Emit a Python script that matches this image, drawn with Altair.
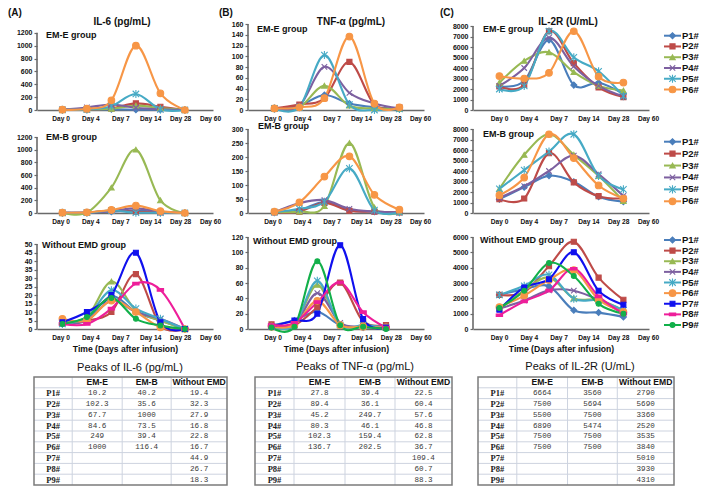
import altair as alt
import pandas as pd

# ---------------- data ----------------
SERIES = ["P1#", "P2#", "P3#", "P4#", "P5#", "P6#", "P7#", "P8#", "P9#"]
DAY_LABELS = ["Day 0", "Day 4", "Day 7", "Day 14", "Day 28", "Day 60"]
POINT_INDEX = [0, 1, 2, 3, 4, 5]

IL6_EME = {
    "P1#": [2, 5, 10.2, 5, 3, 0],
    "P2#": [3, 10, 25, 102.3, 50, 0],
    "P3#": [5, 10, 20, 67.7, 30, 0],
    "P4#": [10, 40, 84.6, 35, 10, 0],
    "P5#": [2, 10, 60, 249, 10, 0],
    "P6#": [5, 20, 150, 1000, 260, 0],
}
IL6_EMB = {
    "P1#": [2, 5, 20, 40.2, 10, 0],
    "P2#": [2, 5, 35.6, 20, 10, 0],
    "P3#": [0, 5, 400, 1000, 200, 0],
    "P4#": [3, 10, 30, 73.5, 20, 0],
    "P5#": [2, 5, 39.4, 5, 5, 0],
    "P6#": [5, 10, 50, 116.4, 30, 0],
}
IL6_WO = {
    "P1#": [3, 6, 19.4, 10, 5, 0],
    "P2#": [3.5, 5, 10, 32.3, 2, 0],
    "P3#": [4, 7, 27.9, 11, 5, 0],
    "P4#": [3, 5, 16.8, 10, 6, 0],
    "P5#": [3, 7, 22.8, 12, 6, 0],
    "P6#": [6, 5, 16.7, 10, 1, 0],
    "P7#": [4, 10, 20, 44.9, 4, 0],
    "P8#": [3, 3, 12, 26.7, 23, 0],
    "P9#": [3, 7, 18.3, 6, 2, 0],
}
TNF_EME = {
    "P1#": [2, 8, 27.8, 12, 5, 2],
    "P2#": [3, 10, 22, 89.4, 10, 5],
    "P3#": [2, 5, 45.2, 8, 3, 2],
    "P4#": [3, 8, 80.3, 32, 12, 3],
    "P5#": [3, 5, 102.3, 10, 0, 2],
    "P6#": [3, 5, 22, 136.7, 12, 5],
}
TNF_EMB = {
    "P1#": [2, 10, 39.4, 10, 5, 2],
    "P2#": [2, 5, 36.1, 8, 5, 2],
    "P3#": [3, 5, 25, 249.7, 20, 3],
    "P4#": [3, 35, 46.1, 15, 5, 2],
    "P5#": [3, 15, 40, 159.4, 10, 3],
    "P6#": [5, 38, 130, 202.5, 65, 12],
}
TNF_WO = {
    "P1#": [5, 11, 22.5, 5, 2, 1],
    "P2#": [6, 5, 28.5, 60.4, 10, 5],
    "P3#": [3, 5, 57.6, 5, 3, 2],
    "P4#": [3, 5, 46.8, 8, 3, 2],
    "P5#": [3, 5, 62.8, 5, 5, 2],
    "P6#": [3, 5, 36.7, 5, 3, 2],
    "P7#": [3, 11, 20, 109.4, 13, 2],
    "P8#": [5, 8, 35, 60.7, 22, 2],
    "P9#": [2, 3, 88.3, 5, 3, 0],
}
IL2R_EME = {
    "P1#": [2250, 2770, 6664, 2370, 2600, 1540],
    "P2#": [2250, 2400, 7500, 4460, 2150, 1230],
    "P3#": [2600, 4680, 5500, 3600, 2300, 1850],
    "P4#": [2300, 4000, 6890, 4150, 2300, 1300],
    "P5#": [2000, 2300, 7500, 5015, 3690, 1320],
    "P6#": [3230, 3000, 3540, 7500, 3170, 2615],
}
IL2R_EMB = {
    "P1#": [1320, 2460, 3560, 2980, 1540, 1080],
    "P2#": [1320, 1380, 5694, 2920, 1600, 1380],
    "P3#": [2300, 5540, 7500, 5540, 3540, 1140],
    "P4#": [1450, 2550, 4000, 5474, 3700, 1630],
    "P5#": [2300, 4090, 5850, 7500, 3540, 2250],
    "P6#": [1700, 3380, 7500, 5230, 2620, 1380],
}
IL2R_WO = {
    "P1#": [2220, 2600, 2790, 1220, 1070, 790],
    "P2#": [2220, 2400, 4100, 5690, 3350, 1900],
    "P3#": [1330, 2500, 3360, 2000, 1900, 1200],
    "P4#": [1330, 1860, 2520, 2500, 1900, 1000],
    "P5#": [2220, 2820, 3535, 1970, 1860, 1220],
    "P6#": [1430, 2180, 3200, 3840, 1920, 1110],
    "P7#": [1260, 2710, 3250, 5010, 2500, 1580],
    "P8#": [900, 1800, 2500, 3930, 2130, 1000],
    "P9#": [1370, 2500, 4310, 3460, 1640, 1000],
}

PEAK_IL6_EME = ["10.2", "102.3", "67.7", "84.6", "249", "1000"]
PEAK_IL6_EMB = ["40.2", "35.6", "1000", "73.5", "39.4", "116.4"]
PEAK_IL6_WO = ["19.4", "32.3", "27.9", "16.8", "22.8", "16.7", "44.9", "26.7", "18.3"]
PEAK_TNF_EME = ["27.8", "89.4", "45.2", "80.3", "102.3", "136.7"]
PEAK_TNF_EMB = ["39.4", "36.1", "249.7", "46.1", "159.4", "202.5"]
PEAK_TNF_WO = ["22.5", "60.4", "57.6", "46.8", "62.8", "36.7", "109.4", "60.7", "88.3"]
PEAK_IL2R_EME = ["6664", "7500", "5500", "6890", "7500", "7500"]
PEAK_IL2R_EMB = ["3560", "5694", "7500", "5474", "7500", "7500"]
PEAK_IL2R_WO = ["2790", "5690", "3360", "2520", "3535", "3840", "5010", "3930", "4310"]
TABLE_HEADER = ["", "EM-E", "EM-B", "Without EMD"]

# ---------------- styles ----------------
FONT = "Liberation Sans"
MONO = "Liberation Mono"
SERIF = "Liberation Serif"
AXIS_COLOR = "#6a6a6a"
TEXT_COLOR = "#111111"
SERIES_COLORS = ["#4A7EBB", "#BE4B48", "#98B954", "#7D60A0", "#46AAC5",
                 "#F79646", "#1010EE", "#EE1E9A", "#12B04A"]
X_PATH = "M-1,-1L1,1M-1,1L1,-1"
STAR_PATH = "M-1,-1L1,1M-1,1L1,-1M0,-1.25L0,1.25"
DASH_PATH = "M-1,-0.4L1,-0.4L1,0.4L-1,0.4Z"
SERIES_SHAPES = ["diamond", "square", "triangle-up", X_PATH, STAR_PATH,
                 "circle", "square", DASH_PATH, "circle"]
SERIES_SIZES = [36, 26, 30, 30, 42, 44, 24, 40, 24]
SIZE_OF = dict(zip(SERIES, SERIES_SIZES))

PW = 176  # plot width of every line panel

COLOR = alt.Color("series:N", scale=alt.Scale(domain=SERIES, range=SERIES_COLORS), legend=None)
STROKE = alt.Stroke("series:N", scale=alt.Scale(domain=SERIES, range=SERIES_COLORS), legend=None)
SHAPE = alt.Shape("series:N", scale=alt.Scale(domain=SERIES, range=SERIES_SHAPES), legend=None)
MSIZE = alt.Size("msize:Q", scale=None)


def text_layer(text, x, y, size, align="left", weight="bold", font=FONT, color=TEXT_COLOR):
    return alt.Chart(pd.DataFrame({"t": [text]})).mark_text(
        align=align, baseline="middle", fontSize=size, fontWeight=weight,
        font=font, color=color
    ).encode(x=alt.value(x), y=alt.value(y), text="t:N")


def panel(values, vmax, ystep, H, vis_off, xgeo, group_label, glpos,
          extras=(), xtitle=False, legend=None, W=PW):
    names = list(values)
    recs = []
    for s in names:
        for p, v in zip(POINT_INDEX, values[s]):
            recs.append({"series": s, "p": p, "v": v, "msize": SIZE_OF[s]})
    df = pd.DataFrame(recs)
    off, sp, lo, ls = xgeo
    xs = alt.Scale(domain=[-off / sp, (W - off) / sp], nice=False, zero=False)
    ytop = vmax * H / (H - vis_off)
    ys = alt.Scale(domain=[0, ytop], nice=False, zero=False)
    tick_vals = [round((lo + ls * k - off) / sp, 5) for k in range(len(DAY_LABELS))]
    arr = "[" + ",".join("'" + d + "'" for d in DAY_LABELS) + "]"
    expr = "%s[round((datum.value - (%.5f)) / %.5f)]" % (arr, tick_vals[0], ls / sp)
    xkw = dict(values=tick_vals, labelExpr=expr, ticks=False, grid=False,
               domainColor=AXIS_COLOR, domainWidth=1.6, labelFont=FONT,
               labelFontSize=6.6, labelFontWeight="bold", labelColor=TEXT_COLOR,
               labelPadding=5, labelOverlap=False, labelFlush=False)
    if xtitle:
        xkw.update(title="Time (Days after infusion)", titleFont=FONT, titleFontSize=8.6,
                   titleFontWeight="bold", titleColor=TEXT_COLOR, titlePadding=4)
    else:
        xkw.update(title=None)
    xaxis = alt.Axis(**xkw)
    yaxis = alt.Axis(values=list(range(0, vmax + 1, ystep)), format="d", grid=False,
                     domain=False, ticks=True, tickSize=3, tickColor=AXIS_COLOR,
                     tickWidth=1.2, labelFont=FONT, labelFontSize=7, labelFontWeight="bold",
                     labelColor=TEXT_COLOR, labelPadding=2, labelOverlap=False,
                     labelFlush=False, title=None)
    X = alt.X("p:Q", scale=xs, axis=xaxis)
    Y = alt.Y("v:Q", scale=ys, axis=yaxis)
    base = alt.Chart(df)
    yline = alt.Chart(pd.DataFrame({"v": [0], "v2": [vmax]})).mark_rule(
        color=AXIS_COLOR, strokeWidth=1.6).encode(x=alt.value(0), y=Y, y2="v2:Q")
    lines = base.mark_line(interpolate="cardinal", tension=0, strokeWidth=2.1).encode(
        x=X, y=Y, color=COLOR)
    pts = base.mark_point(filled=True, opacity=1, strokeWidth=1.1).encode(
        x=X, y=Y, color=COLOR, stroke=STROKE, shape=SHAPE, size=MSIZE)
    layers = [yline, lines, pts, text_layer(group_label, glpos[0], glpos[1], 9)]
    for (t, x, y, size, align) in extras:
        layers.append(text_layer(t, x, y, size, align))
    main = alt.layer(*layers)
    if legend is None:
        return main.properties(width=W, height=H)
    y0, y1 = legend
    n = len(names)
    ldf = pd.DataFrame({"series": names, "li": list(range(n)),
                        "msize": [SIZE_OF[s] for s in names]})
    LY = alt.Y("li:Q", scale=alt.Scale(domain=[0, n - 1], range=[y0, y1]), axis=None)
    lb = alt.Chart(ldf)
    lrule = lb.mark_rule(strokeWidth=2).encode(
        x=alt.value(W + 15), x2=alt.value(W + 32), y=LY, color=COLOR)
    lpts = lb.mark_point(filled=True, opacity=1, strokeWidth=1.1).encode(
        x=alt.value(W + 23.5), y=LY, color=COLOR, stroke=STROKE, shape=SHAPE, size=MSIZE)
    ltxt = lb.mark_text(align="left", baseline="middle", font=FONT, fontSize=9.5,
                        fontWeight="bold", color=TEXT_COLOR).encode(
        x=alt.value(W + 33), y=LY, text="series:N")
    leg = alt.layer(lrule, lpts, ltxt)
    return alt.layer(main, leg).resolve_scale(y="independent").properties(width=W, height=H)


TABLE_UNITS = [0, 39, 90, 140, 197]


def table(title, eme, emb, wo, px_left, px_right, title_x, W, H, title_y, top, bottom):
    xs = alt.Scale(domain=[TABLE_UNITS[0], TABLE_UNITS[-1]], range=[px_left, px_right])
    ys = alt.Scale(domain=[0, 10], range=[top, bottom])
    centers = [(TABLE_UNITS[i] + TABLE_UNITS[i + 1]) / 2 for i in range(4)]
    head, rowl, vals = [], [], []
    for c, h in enumerate(TABLE_HEADER):
        head.append({"cx": centers[c], "r": 0.5, "t": h})
    for i in range(9):
        rowl.append({"cx": centers[0], "r": i + 1.5, "t": SERIES[i]})
        for c, col in enumerate([eme, emb, wo]):
            if i < len(col):
                vals.append({"cx": centers[c + 1], "r": i + 1.5, "t": col[i]})
    X = alt.X("cx:Q", scale=xs, axis=None)
    Yt = alt.Y("r:Q", scale=ys, axis=None)
    hl = pd.DataFrame({"x0": [TABLE_UNITS[0]] * 9, "x1": [TABLE_UNITS[-1]] * 9,
                       "r": list(range(1, 10))})
    vl = pd.DataFrame({"cx": TABLE_UNITS[1:-1], "r0": [0] * 3, "r1": [10] * 3})
    border = pd.DataFrame({"x0": [TABLE_UNITS[0]], "x1": [TABLE_UNITS[-1]], "r0": [0], "r1": [10]})
    l_h = alt.Chart(hl).mark_rule(color="#cdd3df", strokeWidth=1).encode(
        x=alt.X("x0:Q", scale=xs, axis=None), x2="x1:Q", y=alt.Y("r:Q", scale=ys, axis=None))
    l_v = alt.Chart(vl).mark_rule(color="#cdd3df", strokeWidth=1).encode(
        x=X, y=alt.Y("r0:Q", scale=ys, axis=None), y2="r1:Q")
    l_b = alt.Chart(border).mark_rect(fillOpacity=0, stroke="#7b7b7b", strokeWidth=1.5).encode(
        x=alt.X("x0:Q", scale=xs, axis=None), x2="x1:Q",
        y=alt.Y("r0:Q", scale=ys, axis=None), y2="r1:Q")
    t_head = alt.Chart(pd.DataFrame(head)).mark_text(
        font=FONT, fontSize=8.6, fontWeight="bold", color=TEXT_COLOR, baseline="middle").encode(
        x=X, y=Yt, text="t:N")
    t_row = alt.Chart(pd.DataFrame(rowl)).mark_text(
        font=SERIF, fontSize=8.5, fontWeight="bold", color="#222222", baseline="middle").encode(
        x=X, y=Yt, text="t:N")
    t_val = alt.Chart(pd.DataFrame(vals)).mark_text(
        font=MONO, fontSize=7.6, color="#3a3a3a", baseline="middle").encode(
        x=X, y=Yt, text="t:N")
    ttl = text_layer(title, title_x, title_y, 11, align="center", weight="normal")
    return alt.layer(l_h, l_v, t_head, t_row, t_val, l_b, ttl).properties(width=W, height=H)


# ---------------- layout constants ----------------
GEO_A = (25.4, 24.5, 23.5, 29.9)
GEO_B = (26.4, 25.0, 24.5, 29.5)
GEO_B3 = (23.5, 22.9, 24.5, 29.6)
GEO_C = (26.4, 24.8, 26.0, 29.8)
H1, H2, H3 = 86, 84, 97

A1 = panel(IL6_EME, 1200, 200, H1, 8.8, GEO_A, "EM-E group", (9, 11),
           extras=[("(A)", -29, -11, 10, "left"), ("IL-6 (pg/mL)", 85, -2, 10, "center")])
B1 = panel(TNF_EME, 160, 20, H1, 0, GEO_B, "EM-E group", (9, 5),
           extras=[("(B)", -29, -11, 10, "left"), ("TNF-α (pg/mL)", 103, -2, 10, "center")])
C1 = panel(IL2R_EME, 8000, 1000, H1, 2, GEO_C, "EM-E group", (10, 5),
           extras=[("(C)", -33, -11, 10, "left"), ("IL-2R (U/mL)", 95, -2, 10, "center")],
           legend=(11.7, 65.5))
A2 = panel(IL6_EMB, 1200, 200, H2, 8, GEO_A, "EM-B group", (9, 8))
B2 = panel(TNF_EMB, 300, 50, H2, 0, GEO_B, "EM-B group", (10, -3))
C2 = panel(IL2R_EMB, 8000, 1000, H2, 0, GEO_C, "EM-B group", (10, 5), legend=(12.7, 72.3))
A3 = panel(IL6_WO, 50, 5, H3, 12, GEO_A, "Without EMD group", (5, 13), xtitle=True)
B3 = panel(TNF_WO, 120, 20, H3, 5, GEO_B3, "Without EMD group", (5, 9), xtitle=True)
C3 = panel(IL2R_WO, 6000, 1000, H3, 5, GEO_C, "Without EMD group", (7, 8), xtitle=True,
           legend=(8, 93))

TA = table("Peaks of IL-6 (pg/mL)", PEAK_IL6_EME, PEAK_IL6_EMB, PEAK_IL6_WO,
           -3, 190, 93, 191, 137, 20, 29, 137)
TB = table("Peaks of TNF-α (pg/mL)", PEAK_TNF_EME, PEAK_TNF_EMB, PEAK_TNF_WO,
           7, 204, 107, 205, 137, 19, 29, 137)
TC = table("Peaks of IL-2R (U/mL)", PEAK_IL2R_EME, PEAK_IL2R_EMB, PEAK_IL2R_WO,
           5, 201, 107, 176, 137, 19, 29, 137)

chart = alt.concat(
    A1, B1, C1, A2, B2, C2, A3, B3, C3, TA, TB, TC,
    columns=3, spacing={"row": 19, "column": 20}, bounds="flush", align="each"
).properties(padding=0).configure_view(strokeWidth=0)

chart.save("out.html", embed_options={"renderer": "svg", "actions": False})
